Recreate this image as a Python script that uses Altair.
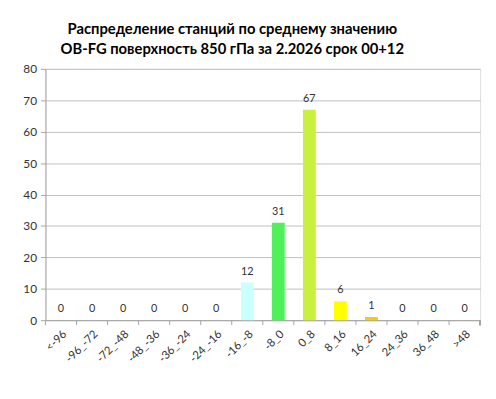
import altair as alt
import pandas as pd

categories = ["<-96", "-96_-72", "-72_-48", "-48_-36", "-36_-24", "-24_-16", "-16_-8",
              "-8_0", "0_8", "8_16", "16_24", "24_36", "36_48", ">48"]
counts = [0, 0, 0, 0, 0, 0, 12, 31, 67, 6, 1, 0, 0, 0]
title_lines = ["Распределение станций по среднему значению",
               "OB-FG поверхность  850 гПа за 2.2026 срок 00+12"]
y_ticks = [0, 10, 20, 30, 40, 50, 60, 70, 80]

bar_colors = ["#CCCCCC", "#CCCCCC", "#CCCCCC", "#CCCCCC", "#CCCCCC", "#CCCCCC", "#CCFFFF",
              "#4FF05A", "#C8F03C", "#FFFF00", "#FFC800", "#CCCCCC", "#CCCCCC", "#CCCCCC"]

df = pd.DataFrame({"cat": categories, "n": counts})

FONT = "Lato"
W, H = 441, 255
AX = "#A6A6A6"

x_axis = alt.Axis(title=None, ticks=False, labelAngle=-45,
                  labelAlign="right", labelBaseline="top",
                  labelPadding=8, labelOverlap=False,
                  labelFont=FONT, labelFontSize=11.5, labelColor="#333333",
                  domainColor=AX, grid=False)
x_scale = alt.Scale(paddingInner=0, paddingOuter=0)
x_enc = alt.X("cat:N", sort=categories, scale=x_scale, axis=x_axis)
y_enc = alt.Y("n:Q", scale=alt.Scale(domain=[0, 80], nice=False),
              axis=alt.Axis(title=None, values=y_ticks, tickCount=9,
                            labelFont=FONT, labelFontSize=12,
                            labelColor="#333333", labelPadding=4, labelOverlap=False,
                            tickColor=AX, tickSize=5, domainColor=AX,
                            gridColor="#C0C0C0", gridWidth=1))

bars = alt.Chart(df).mark_bar(size=13).encode(
    x=x_enc, y=y_enc,
    color=alt.Color("cat:N", scale=alt.Scale(domain=categories, range=bar_colors), legend=None),
)

labels = alt.Chart(df).mark_text(dy=-8, baseline="alphabetic", font=FONT, fontSize=11,
                                 color="#333333").encode(
    x=x_enc, y=y_enc, text="n:Q")

ticks = alt.Chart(df).mark_rule(color=AX).encode(
    x=alt.X("cat:N", sort=categories, bandPosition=0, scale=x_scale, axis=x_axis),
    y=alt.value(H), y2=alt.value(H + 5))

end_tick = alt.Chart(df).mark_rule(color=AX).encode(
    x=alt.value(W), y=alt.value(H), y2=alt.value(H + 5))

chart = alt.layer(bars, labels, ticks, end_tick).properties(
    width=W, height=H,
    title=alt.TitleParams(title_lines, font=FONT, fontSize=15, fontWeight="bold",
                          color="#000000", anchor="middle", dx=-31, offset=6,
                          lineHeight=20),
    autosize=alt.AutoSizeParams(type="none"),
    padding={"left": 38, "top": 59, "right": 8, "bottom": 60},
).configure_view(stroke=None).configure(background="white")

chart.save("out.html", embed_options={"renderer": "svg", "actions": False})
